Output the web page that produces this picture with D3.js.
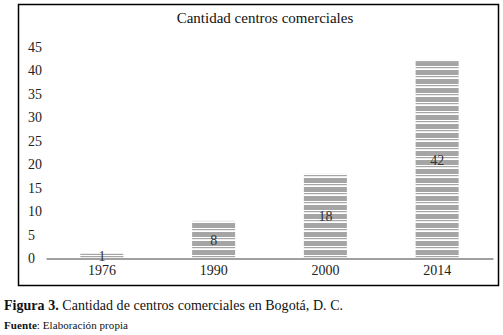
<!DOCTYPE html>
<html>
<head>
<meta charset="utf-8">
<script src="https://cdn.jsdelivr.net/npm/d3@7"></script>
<style>
  body { margin: 0; background: #fff; }
  text { font-family: "Liberation Serif", "Times New Roman", serif; }
</style>
</head>
<body>
<svg id="chart" width="503" height="335"></svg>
<script>
const years = ['1976', '1990', '2000', '2014'];
const counts = [1, 8, 18, 42];
const yTicks = [0, 5, 10, 15, 20, 25, 30, 35, 40, 45];

const title = 'Cantidad centros comerciales';
const figLabel = 'Figura 3.';
const figText = ' Cantidad de centros comerciales en Bogotá, D. C.';
const srcLabel = 'Fuente';
const srcText = ': Elaboración propia';

const SERIF = '"Liberation Serif", "Times New Roman", serif';

const svg = d3.select('#chart');

// frame
svg.append('rect')
  .attr('x', 18.5).attr('y', 4.5)
  .attr('width', 480).attr('height', 281)
  .attr('fill', 'none')
  .attr('stroke', '#000')
  .attr('stroke-width', 1.5);

// striped fill
const pat = svg.append('defs').append('pattern')
  .attr('id', 'stripes')
  .attr('patternUnits', 'userSpaceOnUse')
  .attr('width', 10).attr('height', 9)
  .attr('y', 259);
pat.append('rect').attr('width', 10).attr('height', 9).attr('fill', '#fff');
pat.append('rect').attr('y', 0).attr('width', 10).attr('height', 5).attr('fill', '#a5a5a5');
pat.append('rect').attr('y', 6).attr('width', 10).attr('height', 1.2).attr('fill', '#a5a5a5');

const x = d3.scaleBand()
  .domain(years)
  .range([46, 493])
  .paddingInner(0.615)
  .paddingOuter(0.3075);

const y = d3.scaleLinear()
  .domain([0, 45])
  .range([258.5, 47]);

svg.append('text')
  .attr('x', 265).attr('y', 23)
  .attr('text-anchor', 'middle')
  .attr('font-size', 15)
  .attr('fill', '#111')
  .text(title);

// y axis
const yAxis = svg.append('g')
  .attr('transform', 'translate(44,0)')
  .attr('font-family', SERIF)
  .call(d3.axisLeft(y).tickValues(yTicks).tickSize(0).tickPadding(3));
yAxis.attr('font-family', SERIF);
yAxis.select('.domain').remove();
yAxis.selectAll('text')
  .attr('font-size', 14)
  .attr('fill', '#222')
  .attr('text-anchor', 'start')
  .attr('x', -16);

// bars
svg.selectAll('.bar')
  .data(counts)
  .enter()
  .append('rect')
  .attr('class', 'bar')
  .attr('x', (d, i) => x(years[i]))
  .attr('y', d => y(d))
  .attr('width', x.bandwidth())
  .attr('height', d => y(0) - y(d))
  .attr('fill', 'url(#stripes)');

// x axis
const xAxis = svg.append('g')
  .attr('transform', `translate(0,${y(0)})`)
  .call(d3.axisBottom(x).tickSize(0).tickSizeOuter(0).tickPadding(7));
xAxis.attr('font-family', SERIF);
xAxis.select('.domain')
  .attr('stroke', '#a0a0a0')
  .attr('stroke-width', 2);
xAxis.selectAll('text')
  .attr('font-size', 14)
  .attr('fill', '#222');

// value labels
svg.selectAll('.val')
  .data(counts)
  .enter()
  .append('text')
  .attr('class', 'val')
  .attr('x', (d, i) => x(years[i]) + x.bandwidth() / 2)
  .attr('y', d => (y(d) + y(0)) / 2 + 5)
  .attr('text-anchor', 'middle')
  .attr('font-size', 14)
  .attr('fill', '#333')
  .text(d => d);

// caption
const cap = svg.append('text')
  .attr('x', 4).attr('y', 310)
  .attr('font-size', 14)
  .attr('fill', '#111')
  .attr('textLength', 339)
  .attr('lengthAdjust', 'spacing');
cap.append('tspan').attr('font-weight', 'bold').text(figLabel);
cap.append('tspan').text(figText);

const src = svg.append('text')
  .attr('x', 4).attr('y', 329)
  .attr('font-size', 11)
  .attr('fill', '#111')
  .attr('textLength', 124)
  .attr('lengthAdjust', 'spacing');
src.append('tspan').attr('font-weight', 'bold').text(srcLabel);
src.append('tspan').text(srcText);
</script>
</body>
</html>
